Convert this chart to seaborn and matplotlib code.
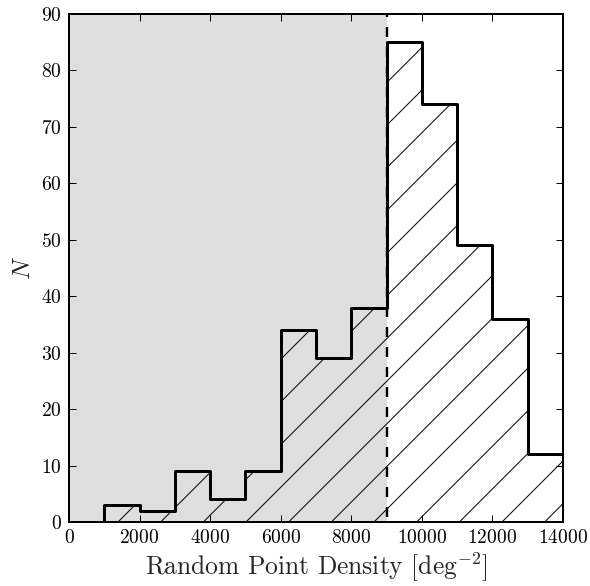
import numpy as np
import pandas as pd
import matplotlib
matplotlib.use("Agg")
import matplotlib.pyplot as plt
import seaborn as sns

# data
bin_edges = [0, 1000, 2000, 3000, 4000, 5000, 6000, 7000, 8000, 9000,
             10000, 11000, 12000, 13000, 14000]
counts = [0, 3, 2, 9, 4, 9, 34, 29, 38, 85, 74, 49, 36, 12]
cut_value = 9000
x_ticks = [0, 2000, 4000, 6000, 8000, 10000, 12000, 14000]
y_ticks = [0, 10, 20, 30, 40, 50, 60, 70, 80, 90]

DPI = 128
px = 72.0 / DPI  # points per pixel

sns.set_theme(style="ticks")
plt.rcParams['font.family'] = ['cmr10', 'DejaVu Serif']
plt.rcParams['mathtext.fontset'] = 'cm'
plt.rcParams['axes.formatter.use_mathtext'] = True
plt.rcParams['hatch.linewidth'] = 1.0 * px
plt.rcParams['axes.unicode_minus'] = False
plt.rcParams['lines.scale_dashes'] = False

centers = [(a + b) / 2 for a, b in zip(bin_edges[:-1], bin_edges[1:])]
df = pd.DataFrame({"density": centers, "N": counts})

fig = plt.figure(figsize=(590 / DPI, 586 / DPI), dpi=DPI)
ax = fig.add_axes([69 / 590, 1 - 522 / 586, (563 - 69) / 590, (522 - 14) / 586])

ax.axvspan(0, cut_value, color="#dedede", lw=0, zorder=0)

sns.histplot(data=df, x="density", weights="N", bins=bin_edges,
             element="step", fill=True, ax=ax, color="black")
poly = ax.collections[-1]
poly.set_facecolor("none")
poly.set_edgecolor("black")
poly.set_hatch("/")
poly.set_linewidth(3.0 * px)
poly.set_alpha(None)
poly.set_zorder(2)

ax.axvline(cut_value, color="black", ls=(15 * px, (10 * px, 10 * px)),
           lw=2.4 * px, zorder=3)

ax.set_xlim(0, 14000)
ax.set_ylim(0, 90)
ax.set_xticks(x_ticks)
ax.set_yticks(y_ticks)
ax.tick_params(direction="in", top=True, right=True, length=7 * px,
               width=1.0 * px, labelsize=19.5 * px, pad=7 * px, colors="black")
for s in ax.spines.values():
    s.set_linewidth(2.0 * px)
    s.set_color("black")

ax.set_xlabel("Random Point Density [deg$^{-2}$]", fontsize=25.5 * px, labelpad=4 * px)
ax.set_ylabel("$N$", fontsize=25 * px, labelpad=6 * px)

fig.savefig("out.png", dpi=DPI)
